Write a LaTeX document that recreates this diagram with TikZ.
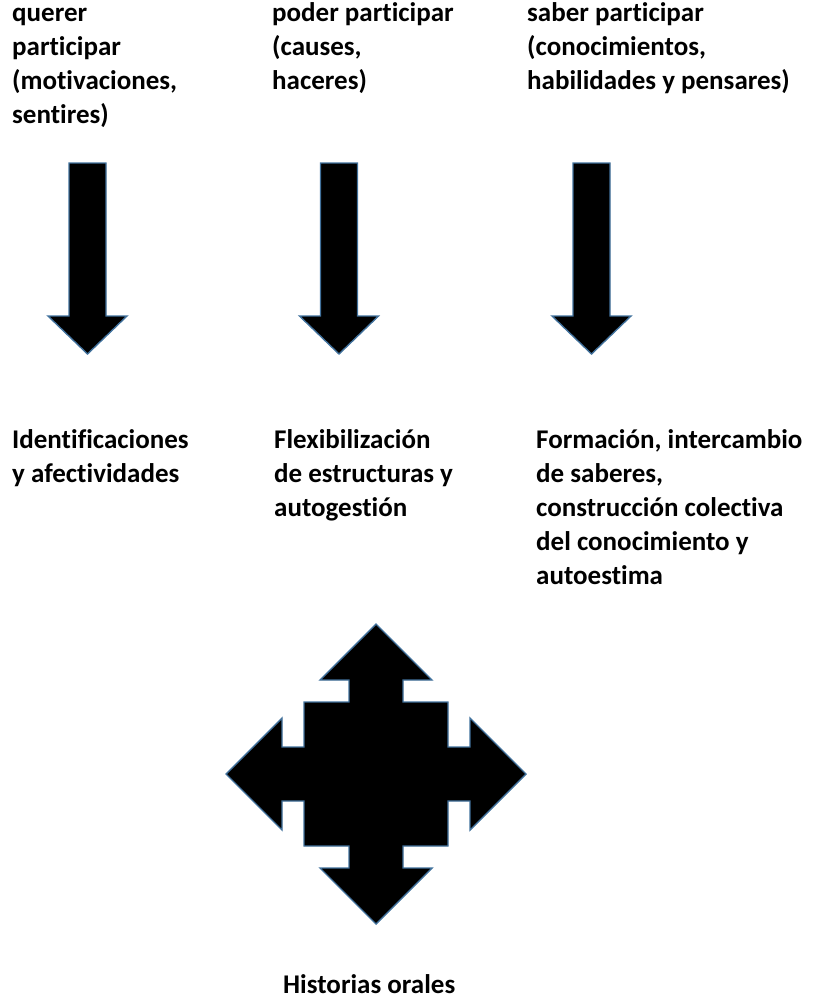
\documentclass[tikz,border=0pt]{standalone}
\usepackage{fontspec}
\newfontfamily\carl[Ligatures=NoCommon]{Carlito}
\definecolor{outl}{HTML}{41719C}
\tikzset{
  lbl/.style={font=\carl\bfseries\fontsize{27}{34}\selectfont, align=left, inner sep=0pt, anchor=north west, text=black},
  bigarrow/.style={fill=black, draw=outl, line width=1.4pt, line join=miter},
}
\begin{document}
\begin{tikzpicture}[x=1pt,y=-1pt]
\useasboundingbox (0,0) rectangle (816,998);
% top labels (baseline of first line = top + 23.8)
\node[lbl] (q1) at (12,-2.3) {\strut querer\\participar\\(motivaciones,\\sentires)};
\node[lbl] (q2) at (272,-2.3) {\strut poder participar\\(causes,\\haceres)};
\node[lbl] (q3) at (527,-2.3) {\strut saber participar\\(conocimientos,\\habilidades y pensares)};
% down arrows
\foreach \cx/\nm in {87.5/a1,339/a2,591.5/a3}{
  \draw[bigarrow] (\cx-18.5,163) -- (\cx+18.5,163) -- (\cx+18.5,316) -- (\cx+39.5,316)
     -- (\cx,354) -- (\cx-39.5,316) -- (\cx-18.5,316) -- cycle;
}
% middle labels
\node[lbl] (r1) at (12,424.2) {\strut Identificaciones\\y afectividades};
\node[lbl] (r2) at (274,424.2) {\strut Flexibilización\\de estructuras y\\autogestión};
\node[lbl] (r3) at (536,424.2) {\strut Formación, intercambio\\de saberes,\\construcción colectiva\\del conocimiento y\\autoestima};
% quad arrow
\begin{scope}[shift={(376,774)}]
\draw[bigarrow] (0,-150) -- (56,-94) -- (27,-94) -- (27,-72) -- (72,-72) -- (72,-27) -- (94,-27)
  -- (94,-56) -- (150,0) -- (94,56) -- (94,27) -- (72,27) -- (72,72) -- (27,72) -- (27,94)
  -- (56,94) -- (0,150) -- (-56,94) -- (-27,94) -- (-27,72) -- (-72,72) -- (-72,27) -- (-94,27)
  -- (-94,56) -- (-150,0) -- (-94,-56) -- (-94,-27) -- (-72,-27) -- (-72,-72) -- (-27,-72)
  -- (-27,-94) -- (-56,-94) -- cycle;
\end{scope}
\node[lbl] (h) at (283,969.2) {\strut Historias orales};
\end{tikzpicture}
\end{document}
